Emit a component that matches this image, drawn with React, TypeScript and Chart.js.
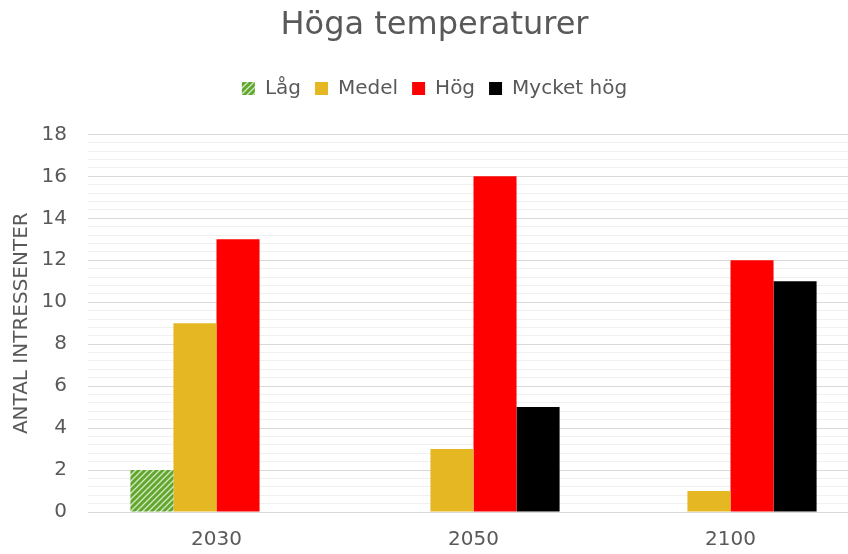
import React, { useEffect, useRef } from "react";
import { Chart, registerables } from "chart.js";

Chart.register(...registerables);

const title = "Höga temperaturer";
const yTitle = "ANTAL INTRESSENTER";
const categories = ["2030", "2050", "2100"];
const seriesNames = ["Låg", "Medel", "Hög", "Mycket hög"];
const lagValues = [2, 0, 0];
const medelValues = [9, 3, 1];
const hogValues = [13, 16, 12];
const mycketHogValues = [0, 5, 11];
const yMax = 18;
const yMajorStep = 2;
const yMinorStep = 0.4;

const FONT = "'DejaVu Sans', sans-serif";
const TEXT = "#595959";
const CANVAS_W = 868;
const CANVAS_H = 554;
const LEGEND_EXTRA = 26;

function makeHatch(): CanvasPattern | string {
  const c = document.createElement("canvas");
  c.width = 6;
  c.height = 6;
  const ctx = c.getContext("2d");
  if (!ctx) return "#70AD47";
  ctx.fillStyle = "#62a630";
  ctx.fillRect(0, 0, 6, 6);
  ctx.strokeStyle = "#d3e9c0";
  ctx.lineWidth = 1.3;
  ctx.beginPath();
  ctx.moveTo(0, 6);
  ctx.lineTo(6, 0);
  ctx.moveTo(-3, 3);
  ctx.lineTo(3, -3);
  ctx.moveTo(3, 9);
  ctx.lineTo(9, 3);
  ctx.stroke();
  const p = ctx.createPattern(c, "repeat");
  return p || "#70AD47";
}

const isMajor = (v: number) => Math.abs(Math.round(v / yMajorStep) * yMajorStep - v) < 1e-6;

const legendSpacer = {
  id: "legendSpacer",
  beforeLayout(chart: any) {
    const legend = chart.legend;
    if (legend && !legend._spacerPatched) {
      const orig = legend.fit;
      legend.fit = function () {
        orig.call(this);
        this.height += LEGEND_EXTRA;
      };
      legend._spacerPatched = true;
    }
  },
};

export default function App() {
  const ref = useRef<HTMLCanvasElement>(null);
  useEffect(() => {
    document.body.style.margin = "0";
    document.body.style.overflow = "hidden";
    if (!ref.current) return;
    const hatch = makeHatch();
    const chart = new Chart(ref.current, {
      type: "bar",
      data: {
        labels: categories,
        datasets: [
          { label: seriesNames[0], data: lagValues, backgroundColor: hatch as any },
          { label: seriesNames[1], data: medelValues, backgroundColor: "#E5B722" },
          { label: seriesNames[2], data: hogValues, backgroundColor: "#FF0000" },
          { label: seriesNames[3], data: mycketHogValues, backgroundColor: "#000000" },
        ],
      },
      plugins: [legendSpacer],
      options: {
        animation: false,
        responsive: false,
        layout: { padding: { left: 10, right: 9, top: 6, bottom: 2 } },
        datasets: { bar: { categoryPercentage: 0.67, barPercentage: 1 } },
        plugins: {
          title: {
            display: true,
            text: title,
            color: TEXT,
            font: { family: FONT, size: 32, weight: "normal" },
            padding: { top: 0, bottom: 20 },
          },
          legend: {
            labels: {
              color: TEXT,
              font: { family: FONT, size: 20 },
              boxWidth: 13,
              boxHeight: 13,
              padding: 14,
            },
          },
          tooltip: { enabled: false },
        },
        scales: {
          x: {
            afterFit: (s: any) => { s.height = 40; },
            grid: { display: false, drawTicks: false },
            border: { display: true, color: "#d9d9d9" },
            ticks: { color: TEXT, font: { family: FONT, size: 20 }, padding: 16 },
          },
          y: {
            min: 0,
            max: yMax,
            afterFit: (s: any) => { s.width = 78; },
            border: { display: false },
            grid: {
              color: (ctx: any) => (isMajor(ctx.tick.value) ? "#d9d9d9" : "#f0f0f0"),
              lineWidth: 1,
              drawTicks: false,
            },
            ticks: {
              stepSize: yMinorStep,
              autoSkip: false,
              color: TEXT,
              font: { family: FONT, size: 20 },
              padding: 21,
              callback: (v: any) => (isMajor(Number(v)) ? String(Math.round(Number(v))) : ""),
            },
            title: {
              display: true,
              text: yTitle,
              color: TEXT,
              font: { family: FONT, size: 20 },
              padding: 0,
            },
          },
        },
      },
    });
    return () => chart.destroy();
  }, []);
  return (
    <div style={{ width: 848, height: 554, overflow: "hidden" }}>
      <canvas ref={ref} width={CANVAS_W} height={CANVAS_H} style={{ display: "block" }} />
    </div>
  );
}
